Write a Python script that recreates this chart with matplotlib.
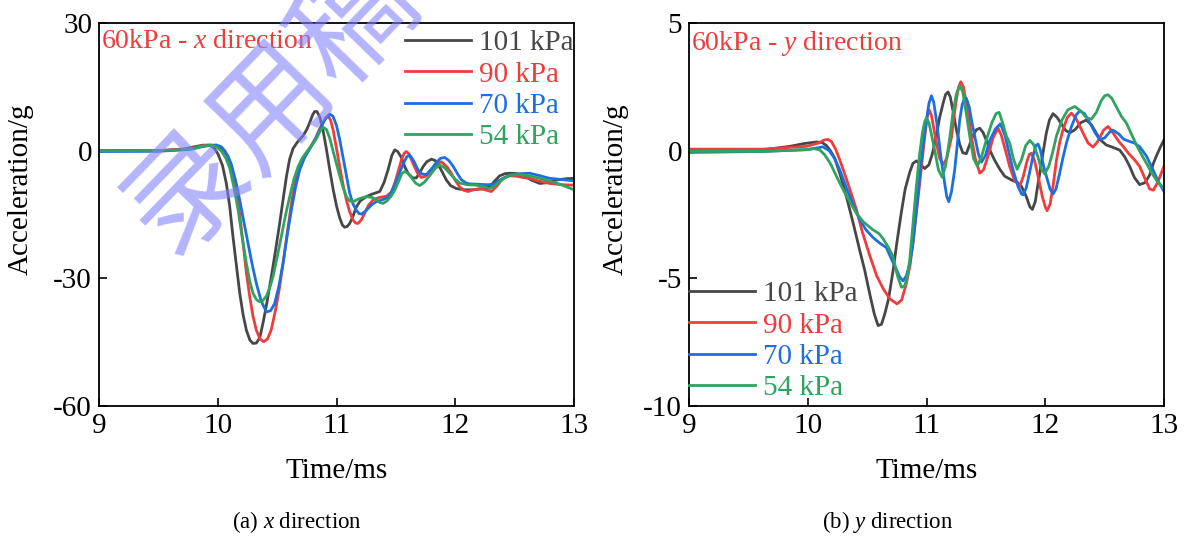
import numpy as np
import matplotlib
matplotlib.use("Agg")
import matplotlib.pyplot as plt

plt.rcParams['font.family'] = ['Liberation Serif', 'DejaVu Serif']
plt.rcParams['mathtext.fontset'] = 'custom'
plt.rcParams['mathtext.rm'] = 'Liberation Serif'
plt.rcParams['mathtext.it'] = 'Liberation Serif:italic'
plt.rcParams['axes.unicode_minus'] = False

LABELS = ['101 kPa', '90 kPa', '70 kPa', '54 kPa']
COLORS = ['#474747', '#f03c3c', '#1c6fe0', '#2fa35f']

# ---- (a) x direction : time (ms), acceleration (g) ----
xa_t101 = [9.0, 9.5, 9.7, 9.8, 9.876, 9.93, 9.97, 10.002, 10.04, 10.072, 10.10, 10.128, 10.157, 10.185, 10.213,
           10.241, 10.27, 10.297, 10.325, 10.353, 10.381, 10.415, 10.451, 10.486, 10.521, 10.55, 10.578, 10.605,
           10.634, 10.67, 10.718, 10.75, 10.774, 10.80, 10.816, 10.835, 10.858, 10.885, 10.914, 10.94, 10.971,
           11.0, 11.027, 11.05, 11.069, 11.09, 11.111, 11.14, 11.167, 11.2, 11.251, 11.30, 11.364, 11.40, 11.434,
           11.465, 11.49, 11.515, 11.546, 11.575, 11.602, 11.64, 11.672, 11.70, 11.728, 11.76, 11.799, 11.83,
           11.855, 11.89, 11.925, 11.96, 12.009, 12.08, 12.149, 12.22, 12.29, 12.33, 12.374, 12.42, 12.458, 12.52,
           12.571, 12.64, 12.711, 12.78, 12.851, 12.93, 13.0]
xa_v101 = [0, 0, 0.3, 0.9, 1.3, 1.3, 0.6, -0.8, -3.5, -7.7, -13, -20.2, -27, -33.5, -38.5,
           -42.2, -44.5, -45.3, -45.2, -44.0, -40.5, -35.5, -29.6, -23.5, -17.1, -11.5, -6.1, -2.0,
           0.5, 2.0, 3.5, 5.0, 6.6, 8.5, 9.2, 9.2, 8.0, 5.0, 0.5, -4.0, -9.0,
           -13.0, -15.8, -17.5, -18.0, -17.8, -17.1, -15.3, -13.2, -11.8, -10.8, -10.2, -9.6, -7.5, -4.5,
           -1.2, 0.2, -0.2, -1.6, -3.8, -5.3, -6.4, -6.4, -5.2, -3.8, -2.6, -2.0, -2.3,
           -3.2, -5.0, -6.9, -8.2, -8.9, -9.2, -9.2, -9.0, -8.5, -7.2, -5.9, -5.4, -5.3, -5.4,
           -5.8, -6.9, -7.7, -7.5, -6.9, -6.6, -6.5]

xa_t90 = [9.0, 9.5, 9.764, 9.88, 9.946, 9.99, 10.03, 10.065, 10.10, 10.13, 10.157, 10.185, 10.213, 10.24,
          10.269, 10.297, 10.325, 10.355, 10.387, 10.42, 10.451, 10.486, 10.521, 10.555, 10.592, 10.625, 10.662,
          10.70, 10.746, 10.79, 10.83, 10.86, 10.886, 10.91, 10.928, 10.95, 10.971, 11.0, 11.027, 11.055, 11.083,
          11.11, 11.139, 11.16, 11.181, 11.21, 11.237, 11.27, 11.307, 11.36, 11.42, 11.46, 11.49, 11.52, 11.546,
          11.57, 11.588, 11.61, 11.644, 11.68, 11.714, 11.75, 11.784, 11.83, 11.883, 11.93, 11.967, 12.0, 12.037,
          12.07, 12.107, 12.15, 12.206, 12.25, 12.304, 12.35, 12.402, 12.46, 12.514, 12.57, 12.627, 12.70, 12.795,
          12.9, 13.0]
xa_v90 = [0, 0, 0.5, 1.2, 1.35, 1.1, 0.3, -0.8, -2.5, -5.5, -9.2, -15, -21.8, -28.5,
          -34.3, -39, -42.2, -44.2, -44.9, -44.2, -42.0, -37.5, -32.0, -25.5, -17.9, -11.5, -6.1,
          -2.8, -0.6, 1.3, 3.3, 5.2, 6.6, 7.8, 8.2, 7.2, 4.9, 0.5, -3.8, -8.0, -11.6,
          -14.3, -16.3, -17.0, -17.1, -16.2, -14.7, -12.8, -11.6, -11.0, -10.7, -9.8, -7.7, -4.8, -2.2,
          -0.6, -0.2, -0.8, -3.0, -5.2, -6.3, -6.0, -5.0, -3.4, -2.6, -3.8, -5.3, -7.0, -8.5,
          -9.3, -9.6, -9.2, -8.9, -9.2, -9.6, -8.3, -6.5, -5.9, -6.0, -6.3, -6.5, -7.1, -7.7,
          -8.0, -8.1]

xa_t70 = [9.0, 9.5, 9.764, 9.9, 9.988, 10.03, 10.058, 10.085, 10.114, 10.15, 10.185, 10.22, 10.255, 10.29,
          10.325, 10.365, 10.409, 10.445, 10.479, 10.515, 10.549, 10.585, 10.62, 10.655, 10.69, 10.73, 10.774,
          10.82, 10.858, 10.9, 10.942, 10.97, 10.999, 11.027, 11.055, 11.083, 11.111, 11.14, 11.167, 11.19,
          11.209, 11.235, 11.265, 11.30, 11.335, 11.38, 11.434, 11.475, 11.518, 11.56, 11.59, 11.616, 11.65,
          11.686, 11.72, 11.757, 11.80, 11.841, 11.875, 11.911, 11.945, 11.981, 12.02, 12.051, 12.09, 12.121,
          12.2, 12.27, 12.318, 12.36, 12.402, 12.45, 12.486, 12.55, 12.627, 12.70, 12.795, 12.9, 13.0]
xa_v70 = [-0.2, -0.15, 0.3, 1.1, 1.35, 0.9, 0.0, -1.2, -3.2, -7.0, -11.6, -16.8, -21.8, -26.8,
          -31.2, -35.3, -37.9, -37.6, -35.9, -31.8, -26.5, -19.8, -13.9, -8.6, -4.5, -1.7, 0.4,
          2.6, 4.9, 7.2, 8.6, 8.1, 6.0, 2.6, -1.6, -5.8, -10.0, -12.6, -14.0, -14.8,
          -14.9, -14.4, -13.6, -12.6, -12.0, -11.6, -11.0, -9.0, -6.1, -3.2, -1.5, -1.0, -2.4,
          -4.5, -5.5, -5.6, -4.3, -2.8, -1.8, -1.6, -2.3, -3.6, -5.5, -6.8, -7.6, -7.8,
          -7.9, -8.0, -7.9, -7.2, -6.5, -5.9, -5.6, -5.4, -5.3, -5.8, -6.5, -6.8, -7.1]

xa_t54 = [9.0, 9.5, 9.764, 9.88, 9.946, 9.99, 10.03, 10.065, 10.10, 10.135, 10.171, 10.205, 10.241, 10.27,
          10.297, 10.325, 10.353, 10.38, 10.409, 10.44, 10.465, 10.50, 10.535, 10.57, 10.606, 10.64, 10.676,
          10.71, 10.746, 10.79, 10.83, 10.86, 10.886, 10.915, 10.942, 10.975, 11.013, 11.05, 11.083, 11.11,
          11.139, 11.19, 11.251, 11.30, 11.335, 11.365, 11.391, 11.425, 11.462, 11.49, 11.518, 11.55, 11.574,
          11.60, 11.63, 11.665, 11.70, 11.74, 11.784, 11.83, 11.869, 11.91, 11.953, 11.995, 12.037, 12.10,
          12.178, 12.24, 12.29, 12.33, 12.374, 12.42, 12.458, 12.52, 12.571, 12.64, 12.711, 12.78, 12.851,
          12.93, 13.0]
xa_v54 = [0, 0, 0.3, 1.1, 1.25, 0.9, -0.1, -1.6, -4.0, -8.5, -13.9, -20.3, -26.5, -30.8,
          -33.5, -35.0, -35.5, -35.2, -34.2, -32.0, -29.6, -25.0, -20.2, -15.2, -10.8, -6.8, -3.8,
          -1.8, -0.4, 1.2, 2.8, 4.5, 5.5, 5.0, 3.0, -0.5, -4.5, -8.2, -10.8, -11.8,
          -12.0, -11.3, -10.8, -11.0, -11.5, -12.2, -12.4, -11.8, -10.6, -9.3, -7.5, -5.4, -4.9,
          -5.3, -6.3, -7.6, -8.2, -7.4, -5.9, -4.2, -3.4, -4.0, -5.3, -6.6, -7.6, -8.0,
          -8.1, -8.5, -8.9, -8.3, -7.3, -6.3, -5.8, -5.6, -5.7, -6.0, -6.5, -7.0, -7.6,
          -8.4, -9.2]

# ---- (b) y direction ----
yb_t101 = [9.0, 9.62, 9.85, 9.97, 10.072, 10.12, 10.157, 10.19, 10.227, 10.27, 10.325, 10.38, 10.437, 10.48,
           10.521, 10.56, 10.592, 10.62, 10.648, 10.68, 10.718, 10.75, 10.788, 10.82, 10.858, 10.885, 10.914,
           10.95, 10.985, 11.02, 11.05, 11.083, 11.11, 11.139, 11.16, 11.181, 11.20, 11.223, 11.25, 11.279,
           11.305, 11.335, 11.36, 11.391, 11.42, 11.448, 11.475, 11.504, 11.54, 11.574, 11.62, 11.658, 11.728,
           11.76, 11.799, 11.84, 11.87, 11.891, 11.915, 11.935, 11.953, 11.98, 12.009, 12.035, 12.065, 12.10,
           12.135, 12.17, 12.206, 12.25, 12.30, 12.346, 12.39, 12.43, 12.47, 12.514, 12.57, 12.627, 12.67,
           12.711, 12.75, 12.795, 12.84, 12.879, 12.91, 12.936, 12.97, 13.0]
yb_v101 = [0, 0.03, 0.17, 0.28, 0.34, 0.32, 0.2, 0.0, -0.3, -0.9, -1.8, -2.8, -3.9, -4.7,
           -5.6, -6.4, -6.85, -6.8, -6.4, -5.8, -4.7, -3.6, -2.4, -1.5, -0.85, -0.5, -0.4,
           -0.55, -0.7, -0.55, -0.1, 0.6, 1.3, 1.85, 2.2, 2.3, 2.1, 1.55, 0.85, 0.25,
           -0.08, -0.12, 0.2, 0.6, 0.82, 0.88, 0.72, 0.4, -0.05, -0.38, -0.75, -1.0, -1.18,
           -1.22, -1.4, -1.8, -2.2, -2.3, -2.0, -1.4, -0.9, -0.1, 0.7, 1.2, 1.45, 1.3,
           1.05, 0.8, 0.7, 0.82, 1.1, 1.2, 1.0, 0.68, 0.4, 0.22, 0.13, 0.02, -0.25,
           -0.62, -1.05, -1.33, -1.25, -0.95, -0.5, -0.2, 0.15, 0.43]

yb_t90 = [9.0, 9.62, 9.99, 10.09, 10.14, 10.171, 10.20, 10.235, 10.269, 10.31, 10.36, 10.409, 10.46, 10.521,
          10.58, 10.634, 10.69, 10.751, 10.79, 10.83, 10.86, 10.886, 10.915, 10.942, 10.965, 10.985, 11.005,
          11.021, 11.04, 11.06, 11.083, 11.11, 11.139, 11.17, 11.209, 11.23, 11.251, 11.27, 11.288, 11.31,
          11.33, 11.355, 11.378, 11.41, 11.448, 11.48, 11.518, 11.56, 11.602, 11.63, 11.665, 11.70, 11.74,
          11.784, 11.815, 11.841, 11.865, 11.883, 11.91, 11.939, 11.975, 12.0, 12.015, 12.04, 12.065, 12.093,
          12.12, 12.149, 12.185, 12.22, 12.26, 12.318, 12.36, 12.402, 12.44, 12.49, 12.528, 12.57, 12.62,
          12.655, 12.70, 12.75, 12.795, 12.84, 12.879, 12.91, 12.95, 13.0]
yb_v90 = [0.06, 0.06, 0.17, 0.3, 0.42, 0.44, 0.35, 0.05, -0.36, -0.9, -1.6, -2.3, -3.2, -4.1,
          -4.9, -5.4, -5.8, -6.0, -5.85, -5.2, -4.5, -3.6, -2.4, -1.3, -0.3, 0.56, 1.3,
          1.6, 1.4, 0.9, 0.3, -0.3, -0.55, -0.3, 0.5, 1.3, 2.0, 2.5, 2.7, 2.5,
          2.0, 1.3, 0.56, -0.3, -0.88, -0.75, -0.2, 0.5, 0.88, 0.6, 0.0, -0.62, -1.15,
          -1.4, -1.0, -0.49, -0.15, -0.1, -0.4, -1.0, -1.8, -2.2, -2.35, -2.1, -1.4, -0.4,
          0.3, 0.82, 1.3, 1.47, 1.25, 0.69, 0.3, 0.14, 0.35, 0.8, 0.95, 0.7, 0.35,
          0.17, -0.1, -0.35, -0.62, -1.1, -1.5, -1.55, -1.2, -0.6]

yb_t70 = [9.0, 9.62, 9.99, 10.07, 10.128, 10.18, 10.225, 10.269, 10.32, 10.38, 10.437, 10.49, 10.549, 10.60,
          10.662, 10.70, 10.74, 10.775, 10.802, 10.83, 10.86, 10.886, 10.915, 10.942, 10.97, 10.999, 11.02,
          11.041, 11.06, 11.083, 11.105, 11.125, 11.15, 11.17, 11.187, 11.21, 11.237, 11.26, 11.279, 11.30,
          11.32, 11.335, 11.36, 11.38, 11.406, 11.435, 11.462, 11.495, 11.532, 11.58, 11.622, 11.66, 11.70,
          11.728, 11.77, 11.80, 11.813, 11.84, 11.87, 11.897, 11.92, 11.939, 11.96, 11.985, 12.009, 12.04,
          12.065, 12.09, 12.12, 12.15, 12.178, 12.22, 12.26, 12.29, 12.33, 12.374, 12.42, 12.458, 12.50,
          12.54, 12.571, 12.62, 12.66, 12.711, 12.75, 12.795, 12.85, 12.907, 12.95, 13.0]
yb_v70 = [-0.07, -0.03, 0.04, 0.1, 0.15, 0.0, -0.3, -0.75, -1.4, -2.1, -2.7, -3.1, -3.4, -3.6,
          -3.8, -4.2, -4.6, -4.95, -5.1, -4.9, -4.4, -3.6, -2.3, -1.0, 0.2, 1.2, 1.85,
          2.15, 1.9, 1.2, 0.35, -0.4, -1.2, -1.8, -2.0, -1.6, -0.75, 0.3, 1.2, 1.8,
          2.05, 2.05, 1.7, 1.15, 0.56, -0.1, -0.45, -0.2, 0.4, 0.85, 1.05, 0.6, -0.2,
          -0.75, -1.4, -1.7, -1.73, -1.45, -0.8, -0.2, 0.2, 0.26, 0.0, -0.6, -1.0, -1.5,
          -1.7, -1.5, -0.9, -0.25, 0.3, 0.95, 1.4, 1.56, 1.45, 1.1, 0.7, 0.43, 0.5,
          0.72, 0.8, 0.65, 0.45, 0.36, 0.3, 0.15, -0.2, -0.75, -1.2, -1.6]

yb_t54 = [9.0, 9.62, 9.99, 10.05, 10.10, 10.14, 10.19, 10.241, 10.30, 10.36, 10.409, 10.47, 10.549, 10.60,
          10.634, 10.68, 10.718, 10.755, 10.788, 10.815, 10.835, 10.858, 10.885, 10.914, 10.94, 10.965, 10.985,
          10.999, 11.02, 11.045, 11.069, 11.10, 11.131, 11.16, 11.195, 11.22, 11.25, 11.279, 11.305, 11.33,
          11.364, 11.395, 11.428, 11.465, 11.504, 11.55, 11.585, 11.611, 11.64, 11.67, 11.70, 11.73, 11.762,
          11.80, 11.835, 11.869, 11.90, 11.935, 11.965, 11.995, 12.03, 12.06, 12.093, 12.14, 12.19, 12.248,
          12.30, 12.345, 12.388, 12.43, 12.47, 12.50, 12.528, 12.56, 12.60, 12.64, 12.683, 12.72, 12.77,
          12.81, 12.851, 12.90, 12.95, 13.0]
yb_v54 = [-0.03, -0.03, 0.04, 0.08, 0.03, -0.15, -0.5, -1.0, -1.55, -2.05, -2.45, -2.8, -3.1, -3.25,
          -3.45, -3.8, -4.15, -4.9, -5.35, -5.3, -5.0, -4.3, -2.9, -1.4, -0.2, 0.7, 1.15,
          1.27, 1.1, 0.55, 0.0, -0.75, -1.04, -0.6, 0.5, 1.4, 2.2, 2.55, 2.3, 1.6,
          0.56, -0.3, -0.6, -0.2, 0.43, 1.1, 1.45, 1.5, 1.1, 0.6, 0.3, -0.3, -0.73,
          -0.35, 0.2, 0.4, 0.25, -0.2, -0.7, -0.91, -0.6, -0.1, 0.56, 1.2, 1.6, 1.73,
          1.55, 1.3, 1.23, 1.5, 1.95, 2.15, 2.19, 2.05, 1.7, 1.35, 1.08, 0.7, 0.2,
          -0.15, -0.49, -0.9, -1.25, -1.47]

series_a = [(xa_t101, xa_v101), (xa_t90, xa_v90), (xa_t70, xa_v70), (xa_t54, xa_v54)]
series_b = [(yb_t101, yb_v101), (yb_t90, yb_v90), (yb_t70, yb_v70), (yb_t54, yb_v54)]


def style_axes(ax, ylim, yticks, ylab_x):
    ax.set_xlim(9, 13)
    ax.set_ylim(*ylim)
    ax.set_xticks([9, 10, 11, 12, 13])
    ax.set_yticks(yticks)
    ax.tick_params(direction='in', length=6, width=1.2, labelsize=21, pad=5,
                   top=False, right=False)
    for s in ax.spines.values():
        s.set_linewidth(1.3)
    ax.set_xlabel('Time/ms', fontsize=21, labelpad=14)
    ax.set_ylabel('Acceleration/g', fontsize=21)
    # label sits a bit above the axes centre in the reference
    ax.yaxis.set_label_coords(ylab_x, 0.565)


fig = plt.figure(figsize=(11.86, 5.36), dpi=100)
ax1 = fig.add_axes([0.0835, 0.2425, 0.4005, 0.7146])
ax2 = fig.add_axes([0.581, 0.2425, 0.4005, 0.7146])

for (t, v), c, lab in zip(series_a, COLORS, LABELS):
    ax1.plot(t, v, color=c, lw=2.0, label=lab)
for (t, v), c, lab in zip(series_b, COLORS, LABELS):
    ax2.plot(t, v, color=c, lw=2.0, label=lab)

style_axes(ax1, (-60, 30), [-60, -30, 0, 30], -0.137)
style_axes(ax2, (-10, 5), [-10, -5, 0, 5], -0.126)

leg_kw = dict(frameon=False, fontsize=21, labelcolor='linecolor', handlelength=2.25,
              handletextpad=0.3, labelspacing=0.17, borderpad=0.0, borderaxespad=0.0)
ax1.legend(loc='upper right', bbox_to_anchor=(1.0, 0.982), **leg_kw)
ax2.legend(loc='lower left', bbox_to_anchor=(0.0, 0.012), **leg_kw)

ax1.text(0.004, 0.985, '60kPa - $x$ direction', transform=ax1.transAxes, color='#f03c3c',
         fontsize=20, ha='left', va='top')
ax2.text(0.004, 0.985, '60kPa - $y$ direction', transform=ax2.transAxes, color='#f03c3c',
         fontsize=20, ha='left', va='top')

fig.text(297 / 1186, 1 - 522 / 536, '(a) $x$ direction', ha='center', va='center', fontsize=16.5)
fig.text(888 / 1186, 1 - 522 / 536, '(b) $y$ direction', ha='center', va='center', fontsize=16.5)

# watermark
fig.text(272 / 1186, 1 - 106 / 536, '录用稿', rotation=46, fontsize=86, color='#8282ff',
         alpha=0.6, family=['Noto Sans CJK SC'], fontweight='light',
         ha='center', va='center', zorder=10)

fig.savefig('out.png', dpi=100)
